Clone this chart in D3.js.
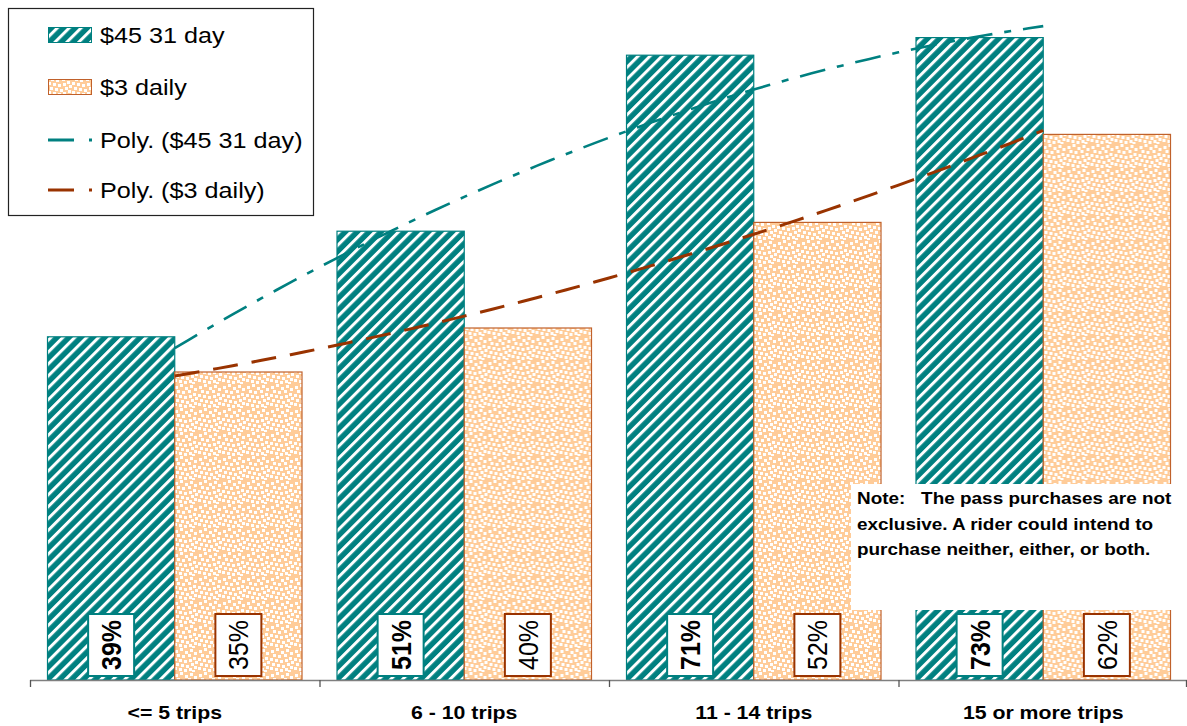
<!DOCTYPE html>
<html>
<head>
<meta charset="utf-8">
<script src="https://cdn.jsdelivr.net/npm/d3@7/dist/d3.min.js"></script>
<style>
  html, body { margin: 0; padding: 0; background: #fff; }
  svg { display: block; font-family: Arial, "Liberation Sans", sans-serif; }
</style>
</head>
<body>
<svg id="chart" width="1187" height="726"></svg>
<script>
// Share of riders who would buy each pass, by weekly trip count
const categories = ["<= 5 trips", "6 - 10 trips", "11 - 14 trips", "15 or more trips"];
const seriesNames = ["$45 31 day", "$3 daily"];
const monthlyPass = [39, 51, 71, 73];
const dailyPass = [35, 40, 52, 62];
const trendNames = ["Poly. ($45 31 day)", "Poly. ($3 daily)"];
const noteLines = [
  "Note:   The pass purchases are not",
  "exclusive. A rider could intend to",
  "purchase neither, either, or both."
];

const TEAL = "#008080", PEACH = "#FFCC99", PEACH_EDGE = "#C0612B", RUST = "#993300";
const SX = 1.12; // horizontal text stretch

const svg = d3.select("#chart");
const defs = svg.append("defs");

// diagonal stripes
const stripes = defs.append("pattern")
  .attr("id", "stripes").attr("patternUnits", "userSpaceOnUse")
  .attr("width", 8.4).attr("height", 20)
  .attr("patternTransform", "rotate(45)");
stripes.append("rect").attr("width", 8.4).attr("height", 20).attr("fill", TEAL);
stripes.append("rect").attr("x", 0).attr("width", 3).attr("height", 20).attr("fill", "#fff");

// white speckles on peach
const dotTile = [[1,2],[6,0],[11,3],[16,1],[20,4],[3,6],[8,7],[14,6],[19,9],[0,10],
  [5,11],[10,12],[15,11],[21,13],[2,15],[7,16],[12,17],[17,15],[0,19],[5,20],
  [10,21],[15,20],[20,18],[18,22]];
const dots = defs.append("pattern")
  .attr("id", "dots").attr("patternUnits", "userSpaceOnUse")
  .attr("width", 24).attr("height", 24);
dots.append("rect").attr("width", 24).attr("height", 24).attr("fill", PEACH);
dots.selectAll("rect.d").data(dotTile).join("rect").attr("class", "d")
  .attr("x", d => d[0]).attr("y", d => d[1]).attr("width", 3).attr("height", 3)
  .attr("fill", "#fff");

// scales
const x0 = d3.scaleBand().domain(categories).range([30, 1188]).paddingInner(0).paddingOuter(0);
const gap = 17.5;
const x1 = d3.scaleBand().domain(seriesNames).range([gap, x0.bandwidth() - gap]);
const y = d3.scaleLinear().domain([0, 80]).range([680, -24]);

const rows = categories.map((c, i) => ({ cat: c, vals: [monthlyPass[i], dailyPass[i]] }));

// bars
const groups = svg.append("g").selectAll("g").data(rows).join("g")
  .attr("transform", d => `translate(${x0(d.cat)},0)`);

groups.selectAll("rect").data(d => d.vals.map((v, k) => ({ v, k }))).join("rect")
  .attr("x", d => x1(seriesNames[d.k]))
  .attr("width", x1.bandwidth())
  .attr("y", d => y(d.v))
  .attr("height", d => y(0) - y(d.v))
  .attr("fill", d => d.k === 0 ? "url(#stripes)" : "url(#dots)")
  .attr("stroke", d => d.k === 0 ? TEAL : PEACH_EDGE)
  .attr("stroke-width", 1.2);

// quadratic least-squares trend over category positions 1..n
function quadFit(vals) {
  const xs = vals.map((_, i) => i + 1);
  const m = d3.mean(xs);
  const t = xs.map(v => v - m);
  const t2m = d3.mean(t.map(v => v * v));
  const p2 = t.map(v => v * v - t2m);
  const a0 = d3.mean(vals);
  const a1 = d3.sum(t.map((v, i) => v * vals[i])) / d3.sum(t.map(v => v * v));
  const a2 = d3.sum(p2.map((v, i) => v * vals[i])) / d3.sum(p2.map(v => v * v));
  return xv => { const tt = xv - m; return a0 + a1 * tt + a2 * (tt * tt - t2m); };
}
const xc = d3.scaleLinear().domain([1, categories.length])
  .range([x0(categories[0]) + x0.bandwidth() / 2, x0(categories[categories.length - 1]) + x0.bandwidth() / 2]);
const samples = d3.range(1, categories.length + 0.0001, 0.05);
const line = d3.line().x(d => xc(d[0])).y(d => y(d[1]));

const trends = [
  { f: quadFit(monthlyPass), color: TEAL, dash: "26,12,7,12", w: 2.6 },
  { f: quadFit(dailyPass), color: RUST, dash: "25,14", w: 3 }
];
svg.append("g").selectAll("path").data(trends).join("path")
  .attr("d", d => line(samples.map(s => [s, d.f(s)])))
  .attr("fill", "none").attr("stroke", d => d.color)
  .attr("stroke-width", d => d.w).attr("stroke-dasharray", d => d.dash);

// value labels in boxes at the foot of each bar
const lab = groups.selectAll("g.lab").data(d => d.vals.map((v, k) => ({ v, k }))).join("g")
  .attr("class", "lab")
  .attr("transform", d => `translate(${x1(seriesNames[d.k]) + x1.bandwidth() / 2},${y(0) - 35})`);
lab.append("rect")
  .attr("x", -23).attr("y", -31).attr("width", 46).attr("height", 62)
  .attr("fill", "#fff")
  .attr("stroke", d => d.k === 0 ? TEAL : RUST).attr("stroke-width", 2);
lab.append("text")
  .attr("transform", `scale(${SX},1) rotate(-90)`)
  .attr("text-anchor", "middle").attr("dy", "0.36em")
  .attr("font-size", 25)
  .attr("font-weight", d => d.k === 0 ? "bold" : "normal")
  .attr("fill", "#000")
  .text(d => d.v + "%");

// category axis
const axis = svg.append("g");
axis.append("line").attr("x1", 30).attr("x2", 1187).attr("y1", 680.5).attr("y2", 680.5)
  .attr("stroke", "#7f7f7f").attr("stroke-width", 1.3);
axis.selectAll("line.tick").data(categories.concat([null])).join("line").attr("class", "tick")
  .attr("x1", (d, i) => Math.min(30.5 + i * x0.bandwidth(), 1186.5))
  .attr("x2", (d, i) => Math.min(30.5 + i * x0.bandwidth(), 1186.5))
  .attr("y1", 680).attr("y2", 687).attr("stroke", "#555").attr("stroke-width", 1.3);
axis.selectAll("text").data(categories).join("text")
  .attr("transform", d => `translate(${x0(d) + x0.bandwidth() / 2},719) scale(${SX},1)`)
  .attr("text-anchor", "middle").attr("font-size", 19).attr("font-weight", "bold")
  .text(d => d);

// note box
const note = svg.append("g");
note.append("rect").attr("x", 851).attr("y", 484).attr("width", 340).attr("height", 126).attr("fill", "#fff");
note.selectAll("text").data(noteLines).join("text")
  .attr("transform", (d, i) => `translate(857,${504 + i * 25.5}) scale(${SX},1)`)
  .attr("font-size", 16.9).attr("font-weight", "bold")
  .style("white-space", "pre")
  .text(d => d);

// legend
const leg = svg.append("g");
leg.append("rect").attr("x", 8.5).attr("y", 8.5).attr("width", 305).attr("height", 207)
  .attr("fill", "#fff").attr("stroke", "#222").attr("stroke-width", 1.2);
const legItems = [
  { name: seriesNames[0], kind: "box", fill: "url(#stripes)", stroke: TEAL, yy: 35 },
  { name: seriesNames[1], kind: "box", fill: "url(#dots)", stroke: PEACH_EDGE, yy: 87 },
  { name: trendNames[0], kind: "line", stroke: TEAL, yy: 140 },
  { name: trendNames[1], kind: "line", stroke: RUST, yy: 190 }
];
legItems.forEach(it => {
  if (it.kind === "box") {
    leg.append("rect").attr("x", 48.5).attr("y", it.yy - 7.5).attr("width", 43).attr("height", 15)
      .attr("fill", it.fill).attr("stroke", it.stroke).attr("stroke-width", 1);
  } else {
    leg.append("line").attr("x1", 48).attr("x2", 94).attr("y1", it.yy).attr("y2", it.yy)
      .attr("stroke", it.stroke).attr("stroke-width", 3).attr("stroke-dasharray", "26,15,3,20");
  }
  leg.append("text")
    .attr("transform", `translate(100,${it.yy + 8}) scale(${SX},1)`)
    .attr("font-size", 22.5).attr("fill", "#000")
    .text(it.name);
});
</script>
</body>
</html>
